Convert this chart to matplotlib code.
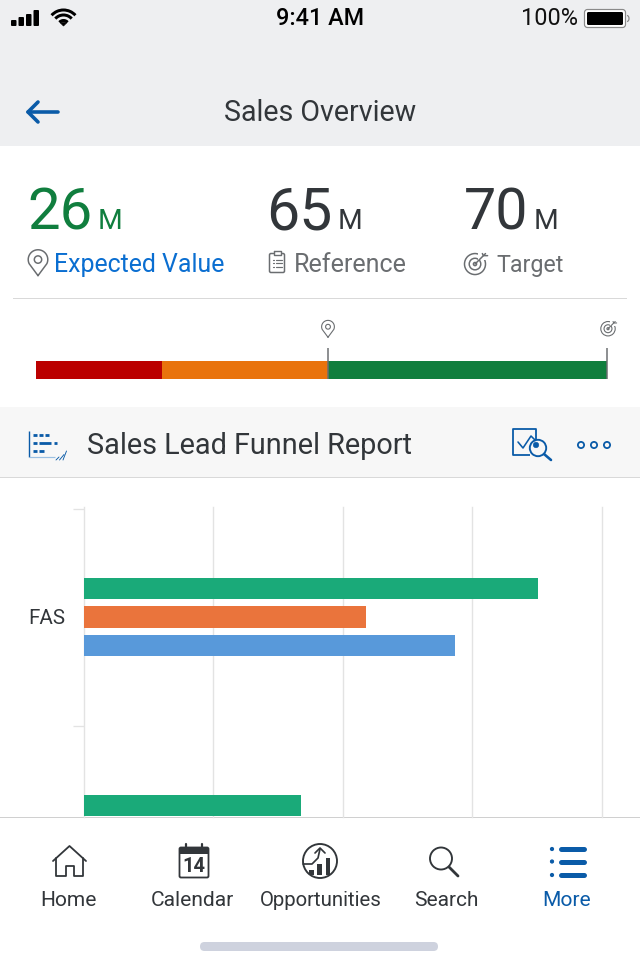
import numpy as np
import matplotlib
matplotlib.use("Agg")
import matplotlib.pyplot as plt
from matplotlib.patches import Rectangle, FancyBboxPatch, Circle, Arc, Polygon
from matplotlib.textpath import TextPath
from matplotlib.font_manager import FontProperties

# ---- data ----
categories = ["FAS"]
green_values = [3.51, 1.68]     # second category is cut off by the tab bar
orange_values = [2.18]
blue_values = [2.87]
grid_ticks = [0, 1, 2, 3, 4]
bullet_segments = [15.5, 20.3, 34.2]   # red, orange, green widths (M)
bullet_markers = [35.8, 70]
kpi_numbers = ["26", "65", "70"]
kpi_labels = ["Expected Value", "Reference", "Target"]
tab_labels = ["Home", "Calendar", "Opportunities", "Search", "More"]

DARK = "#32363a"
GRAY = "#6a6d70"
BLUE = "#0a5ba8"
LINK = "#0a6ed1"
KPI_GREEN = "#107e3e"
FONT = "Roboto"
PX = 0.72

plt.rcParams["font.family"] = ["Roboto", "DejaVu Sans"]
fig = plt.figure(figsize=(6.4, 9.6), dpi=100, facecolor="white")
ui = fig.add_axes([0, 0, 1, 1])
ui.set_xlim(0, 640)
ui.set_ylim(960, 0)
ui.axis("off")


def label(x0, x1, base, s, color=DARK, family=FONT, weight="normal", z=3):
    """Real text, sized so that it spans x0..x1 px, on baseline `base`."""
    fp = FontProperties(family=family, weight=weight)
    ext = TextPath((0, 0), s, size=100, prop=fp).get_extents()
    size = 100 * (x1 - x0) / ext.width
    ui.text(x0 - ext.x0 * size / 100, base, s, fontsize=size * PX, color=color, family=family,
            weight=weight, ha="left", va="baseline", zorder=z)


def rect(x, y, w, h, c, z=1):
    ui.add_patch(Rectangle((x, y), w, h, fc=c, ec="none", zorder=z))


def line(xs, ys, c=DARK, lw=1.5, z=3, cap="round"):
    ui.plot(xs, ys, color=c, lw=lw * PX, zorder=z, solid_capstyle=cap, solid_joinstyle="round")


def circ(x, y, r, ec=DARK, lw=1.5, fc="none", z=3):
    ui.add_patch(Circle((x, y), r, fc=fc, ec=ec, lw=lw * PX, zorder=z))


def pin(cx, cy, s=1.0, c=GRAY, lw=1.5):
    t = np.radians(np.linspace(205, -25, 40))
    r = 8.5 * s
    xs = np.r_[cx, cx + r * np.cos(t), cx]
    ys = np.r_[cy + 11 * s, (cy - 3 * s) - r * np.sin(t), cy + 11 * s]
    line(xs, ys, c, lw)
    circ(cx, cy - 3 * s, 3.2 * s, c, lw)


def target(cx, cy, s=1.0, c=GRAY, lw=1.5):
    circ(cx, cy + 1 * s, 10 * s, c, lw)
    circ(cx, cy + 1 * s, 5.5 * s, c, lw)
    circ(cx, cy + 1 * s, 1.5 * s, c, lw)
    rect(cx + 3 * s, cy - 11 * s, 10 * s, 8 * s, "white", 3)
    line([cx, cx + 10 * s], [cy + 1 * s, cy - 9 * s], c, lw, 4)
    line([cx + 7 * s, cx + 8 * s, cx + 12 * s], [cy - 9 * s, cy - 7 * s, cy - 7 * s], c, lw, 4)


# ---- backgrounds ----
rect(0, 0, 640, 146, "#eeeff1")
rect(0, 407, 640, 70, "#f7f7f7")
rect(0, 477, 640, 1, "#d9d9d9")
rect(13, 298, 614, 1, "#d9d9d9")
rect(0, 817, 640, 143, "white", 4)
rect(0, 817, 640, 1, "#d0d0d0", 5)

# ---- status bar ----
for x, h in zip([11, 18.5, 26, 33.5], [6, 9, 12, 16]):
    ui.add_patch(FancyBboxPatch((x + 1, 26 - h + 1), 3.5, h - 2, boxstyle="round,pad=1",
                                fc="black", ec="none", zorder=3))
for r in [5.5, 11, 16]:
    ui.add_patch(Arc((63.5, 26), 2 * r, 2 * r, theta1=222, theta2=318, color="black",
                     lw=3.0 * PX, zorder=3))
ui.add_patch(Polygon([[60, 22.5], [67, 22.5], [63.5, 26]], fc="black", ec="black", lw=0.5, zorder=3))
label(277, 362, 25, "9:41 AM", "black", "Roboto", "medium")
label(523, 577, 25, "100%", "#111111", "Roboto")
ui.add_patch(FancyBboxPatch((586, 11), 38, 15, boxstyle="round,pad=1.5,rounding_size=3",
                            fc="white", ec="#8a8a8a", lw=1.2 * PX, zorder=3))
ui.add_patch(FancyBboxPatch((587.5, 12.5), 35, 12, boxstyle="round,pad=0.5,rounding_size=1.5",
                            fc="black", ec="none", zorder=4))
ui.add_patch(Arc((627, 18.5), 4, 6, theta1=-90, theta2=90, color="#8a8a8a", lw=1.2 * PX, zorder=3))

# ---- navigation bar ----
line([28, 58], [112, 112], BLUE, 3.6)
line([38, 28, 38], [102, 112, 122], BLUE, 3.6)
label(225, 416, 121, "Sales Overview")

# ---- KPI block ----
num_x = [(30, 90, 100, 120), (270, 330, 340, 360), (466, 525, 536, 556)]
num_c = [KPI_GREEN, DARK, DARK]
for s, (a, b, c, d), col in zip(kpi_numbers, num_x, num_c):
    label(a, b, 229, s, col)
    label(c, d, 229, "M", col)
lab_x = [(56, 224), (296, 406), (497, 563)]
lab_c = [LINK, GRAY, GRAY]
for s, (a, b), col in zip(kpi_labels, lab_x, lab_c):
    label(a, b, 272, s, col)
pin(38, 263, 1.15)
# clipboard icon
ui.add_patch(FancyBboxPatch((270, 254), 14, 18, boxstyle="round,pad=0.5,rounding_size=1.5",
                            fc="none", ec=GRAY, lw=1.5 * PX, zorder=3))
rect(273.5, 251, 7, 4, "white", 3)
line([273.5, 273.5, 280.5, 280.5, 273.5], [251, 255, 255, 251, 251], GRAY, 1.4, 4)
for y in [259.5, 263, 266.5]:
    line([272.5, 273.5], [y, y], GRAY, 1.2)
    line([276, 282], [y, y], GRAY, 1.2)
target(475, 263, 1.05)

# ---- bullet bar ----
bul = fig.add_axes([36 / 640, 1 - 379 / 960, 571 / 640, 31 / 960], zorder=2)
bul.patch.set_alpha(0)
bul.axis("off")
bul.set_xlim(0, 70)
bul.set_ylim(379, 348)
bul.barh([370, 370, 370], bullet_segments, left=np.r_[0, np.cumsum(bullet_segments)[:-1]],
         height=18, color=["#bb0000", "#e9730c", "#107e3e"], linewidth=0)
bul.vlines(bullet_markers, 348, 379, color=GRAY, lw=1.5 * PX, clip_on=False, zorder=3)
pin(328, 329, 0.75, GRAY, 1.1)
target(608, 328, 0.72, GRAY, 1.1)

# ---- card header ----
label(88, 411, 454, "Sales Lead Funnel Report")
line([29, 29], [431, 457], BLUE, 1.4, cap="butt")
line([29, 55], [457, 457], "#9cc0e2", 1.2, cap="butt")
for y, segs in zip([435, 443, 451], [[(33, 37), (39, 43), (45, 49)],
                                     [(33, 37), (39, 51), (54, 57)],
                                     [(33, 37), (39, 44)]]):
    for a, b in segs:
        line([a, b], [y, y], BLUE, 2.8, cap="butt")
line([56, 59], [460, 457], BLUE, 0.9)
line([59.5, 64], [460, 454.5], BLUE, 0.9)
line([63, 66.5], [460, 451], BLUE, 0.9)
# analyze icon
line([536, 536, 513, 513, 530], [440, 429, 429, 455, 455], BLUE, 1.8, cap="butt")
line([518, 523, 531, 536], [442, 448, 436, 441], BLUE, 1.6)
circ(538, 448, 8.2, BLUE, 1.9, "#f7f7f7", 4)
circ(536, 445, 2.8, fc=BLUE, ec=BLUE, lw=0.5, z=5)
line([544, 551], [454, 460], BLUE, 2.6, 5)
for x in [581, 594, 607]:
    circ(x, 445, 3.1, BLUE, 1.8)

# ---- chart ----
ax = fig.add_axes([84 / 640, 1 - 817 / 960, 517.6 / 640, 310 / 960], zorder=1)
ax.patch.set_alpha(0)
for sp in ax.spines.values():
    sp.set_visible(False)
ax.set_xlim(grid_ticks[0], grid_ticks[-1])
band_px = 217
ax.set_ylim((817 - 617) / band_px, (507 - 617) / band_px)
bar_h = 21.5 / band_px
step = 28.5 / band_px
ax.barh([-step, 1 - step], green_values, height=bar_h, color="#1aaa79", linewidth=0, zorder=3)
ax.barh([0], orange_values, height=bar_h, color="#ea743c", linewidth=0, zorder=3)
ax.barh([step], blue_values, height=bar_h, color="#5899da", linewidth=0, zorder=3)
ax.set_xticks(grid_ticks, labels=[""] * len(grid_ticks))
ax.tick_params(axis="x", length=0)
ax.grid(axis="x", color="#e3e3e3", lw=1.4 * PX, zorder=0)
for gl in ax.get_xgridlines():
    gl.set_clip_on(False)
ax.set_yticks(range(len(categories)), labels=categories, fontsize=20.5 * PX, color=DARK, family=FONT)
ax.set_yticks([-0.5, 0.5], minor=True)
ax.tick_params(axis="y", which="major", length=0, pad=19 * PX)
ax.tick_params(axis="y", which="minor", length=11 * PX, width=1.3 * PX, color="#e3e3e3")
ax.set_axisbelow(True)

# ---- tab bar ----
tab_x = [(42, 96), (152, 234), (261, 381), (415, 477), (544, 590)]
for s, (a, b) in zip(tab_labels, tab_x):
    label(a, b, 906, s, BLUE if s == "More" else DARK, z=6)
Z = 6
# home
line([53, 69.5, 86], [861, 846, 861], DARK, 1.8, Z)
line([56, 56, 66, 66, 74, 74, 83, 83], [858, 876, 876, 866, 866, 876, 876, 858], DARK, 1.8, Z)
# calendar
ui.add_patch(FancyBboxPatch((180, 848), 28, 29, boxstyle="round,pad=0.5,rounding_size=1.5",
                            fc="white", ec=DARK, lw=1.8 * PX, zorder=Z))
rect(180, 848, 28, 6, DARK, Z)
line([186, 186], [844, 850], DARK, 2.2, Z + 1)
line([202, 202], [844, 850], DARK, 2.2, Z + 1)
ui.text(194, 872.5, "14", fontsize=20 * PX, family=FONT, weight="bold", color=DARK,
        ha="center", va="baseline", zorder=Z)
# opportunities
circ(320, 861, 17, DARK, 1.9, "white", Z)
for x, top in [(311, 870), (319, 864), (327.5, 858)]:
    rect(x - 2, top, 4.5, 875 - top, DARK, Z + 1)
line([303, 312, 318, 320], [864, 864, 858, 849], DARK, 1.7, Z + 1)
line([315, 320, 325], [853, 848, 853], DARK, 1.7, Z + 1)
# search
circ(441, 858.5, 11, DARK, 1.9, "white", Z)
line([449, 458], [867, 876], DARK, 2.8, Z)
# more
for y in [849, 861.5, 875]:
    circ(552, y, 1.6, BLUE, 1.0, BLUE, Z)
    line([561, 584], [y, y], BLUE, 5, Z)

ui.add_patch(FancyBboxPatch((200, 942), 238, 9, boxstyle="round,pad=0,rounding_size=4.5",
                            fc="#ced2de", ec="none", zorder=Z))

fig.savefig("out.png", dpi=100, facecolor="white")
